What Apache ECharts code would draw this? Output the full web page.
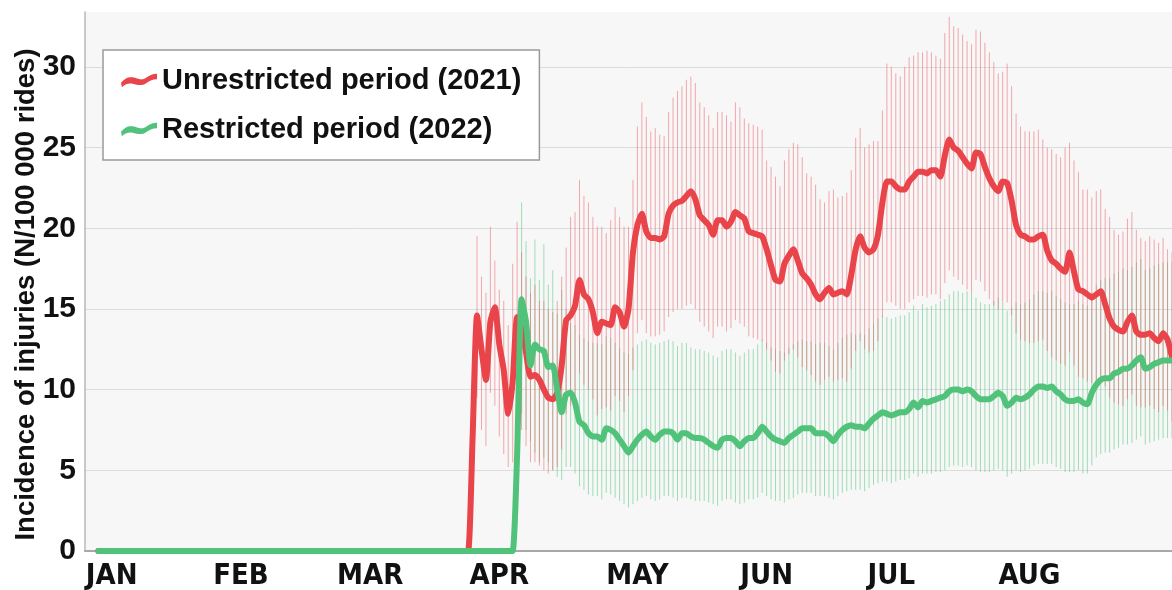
<!DOCTYPE html>
<html><head><meta charset="utf-8">
<script src="https://cdn.jsdelivr.net/npm/echarts@6/dist/echarts.min.js"></script>
<style>html,body{margin:0;padding:0;background:#fff}#chart{width:1172px;height:590px}</style>
</head><body><div id="chart"></div>
<script>
// ---- data (day index 0 = 1 January) ----
const dayCount = 245;
const firstDay = 3;
const monthLabels = ['JAN','FEB','MAR','APR','MAY','JUN','JUL','AUG'];
const monthLabelDays = [6, 35, 64, 93, 124, 153, 181, 212];
const yTicks = [0, 5, 10, 15, 20, 25, 30];

// Unrestricted period (2021)
const redStart = 86;
const redMean = [0,7,14.6,12.5,10.6,14.2,15.1,12.8,11.2,8.5,10.5,14.5,13.8,12.3,10.8,10.9,10.6,10,9.5,9.4,9.8,11.5,
14.3,14.6,15.2,16.8,15.9,15.6,14.8,13.5,14.2,14.1,14,15.1,14.8,13.9,15,18.5,20.2,20.9,19.8,19.4,19.4,19.3,19.5,20.9,
21.4,21.6,21.7,22,22.3,21.8,20.8,20.5,20.2,19.6,20.5,20.5,20.1,20.4,21,20.8,20.6,19.8,19.7,19.6,19.5,18.7,17.7,16.8,
16.7,17.8,18.3,18.7,18,17.2,16.9,16.5,15.9,15.6,16,16.3,15.9,16,16.1,15.9,17.1,18.7,19.5,18.8,18.5,18.7,19.6,21.6,
22.9,22.9,22.6,22.4,22.4,22.9,23.2,23.5,23.5,23.4,23.6,23.6,23.2,24.5,25.5,25,24.8,24.4,24,23.7,24.7,24.6,23.8,23.1,
22.6,22.3,22.9,22.8,21.7,20.2,19.6,19.5,19.3,19.3,19.5,19.6,18.6,18,17.8,17.5,17.3,18.5,17.3,16.2,16.1,15.9,15.7,15.9,
16.1,15.3,14.4,13.9,13.7,13.6,14.2,14.6,13.6,13.4,13.4,13.5,13.2,13,13.5,13.1,12];
const redCiStart = 88;
const redHigh = [19.5,17,16,20.1,18,16.2,15.5,14,17.8,20.4,
18.5,17,16,16.5,15.5,15.5,15,14.8,15.5,17,
18.8,20.7,21,23,22,21.6,20.7,20.1,20.1,19.7,
20.5,21.3,20.7,20.1,20.1,23,26.3,27.8,26.9,26,
26.2,25.8,25.7,27.2,28.1,28.5,28.8,29.2,29.4,29,
27.8,27.5,27,26.2,27.2,27.2,27,26.6,27.8,27.5,
26.8,26.5,26.4,26.3,26.1,24.2,23.8,23.2,22.6,24.2,
24.9,25.3,25.2,24.4,23.4,23.2,22.7,21.8,21.6,22.3,
22.4,21.9,22,22.2,23.6,25.6,26.2,25,25.2,25.4,
25.4,27.3,30.2,30,29.6,29.4,30,30.6,30.7,30.9,
30.9,31,30.9,30.7,30.5,32.1,33.1,32.5,32.4,32,
31.6,31.4,32.3,32.2,31.5,30.9,30.3,29.6,29.7,30.2,
28.8,27.1,26.3,26,26,26,26.1,25.5,25,24.9,
24.6,24.4,25,25.3,24.2,23.5,22.4,22.4,21.9,22.3,
22.4,21.2,20.7,19.9,19.6,19.8,20.6,21,19.9,19.4,
19.2,19.5,19.3,19.1,19.4,18.7,18.5];
const redLow = [9.5,7.5,6.5,9.8,9,7.1,6,5.2,5.5,8.1,
7.5,6.5,5.5,5.5,5.3,5,4.8,5,5.2,6.3,
8.5,9,9.6,11,10.3,10,9.4,8.4,8.8,8.9,
8.7,9.6,9.3,8.6,9.6,11.2,13.5,14.3,13.5,13.3,
13.3,13.4,13.6,14.5,14.8,15,15,15.2,15.3,15,
14.2,13.9,13.6,13.2,13.9,13.9,13.6,13.8,14.3,14.1,
13.9,13.3,13.2,13.1,13,12.5,11.8,11.1,11,11.8,
12.2,12.5,12,11.4,11.2,10.9,10.5,10.3,10.6,10.8,
10.5,10.6,10.7,10.5,11.3,12.4,13,12.5,12.3,12.4,
13,14.5,15.4,15.4,15.2,15,15,15.4,15.6,15.8,
15.8,15.7,15.9,15.9,15.6,16.6,17.4,17,16.8,16.5,
16.2,16,16.8,16.7,16.1,15.6,15.2,15,15.5,15.4,
14.6,13.5,13.1,13,12.9,12.9,13,13.1,12.4,12,
11.8,11.6,11.5,12.3,11.5,10.8,10.7,10.5,10.4,10.5,
10.7,10.2,9.5,9.2,9.1,9,9.4,9.7,9,8.9,
8.9,9,8.8,8.6,9,8.7,8];

// Restricted period (2022)
const greenStart = 97;
const greenMean = [6,15.6,14.2,11.5,12.8,12.5,12.4,11.4,11.5,10,
8.6,9.7,9.8,9.2,8,7.8,7.3,7.1,7.1,6.9,
7.6,7.5,7.3,6.9,6.5,6.1,6.5,6.9,7.2,7.4,
7.1,6.9,7.2,7.4,7.4,7.3,6.9,7.3,7.3,7.1,
7,7,6.9,6.7,6.5,6.4,6.9,7,7,6.8,
6.5,6.8,7,7,7.3,7.7,7.4,7.1,6.9,6.8,
6.7,7,7.2,7.4,7.6,7.6,7.6,7.3,7.3,7.3,
7.1,6.8,7.2,7.5,7.7,7.8,7.7,7.7,7.6,7.9,
8.2,8.4,8.6,8.5,8.4,8.5,8.6,8.6,8.8,9.2,
8.9,9.3,9.2,9.3,9.4,9.5,9.6,9.9,10,10,
9.9,10,9.9,9.6,9.4,9.4,9.4,9.6,9.8,9.6,
9,9.2,9.5,9.4,9.5,9.7,10,10.2,10.2,10.1,
10.2,9.9,9.7,9.4,9.3,9.3,9.4,9.2,9.1,9.8,
10.3,10.6,10.7,10.7,11,11.1,11.3,11.3,11.5,11.8,
12,11.3,11.4,11.6,11.7,11.8,11.8,11.8];
const greenCiStart = 98;
const greenHigh = [21.6,19.2,16.9,19.3,16.8,19,16.5,17.4,14.7,16.2,
15,14.1,14,13.4,13.2,13,12.9,12.9,12.8,13.3,
13.2,12.9,12.6,12.3,12.2,12.6,12.8,13,13.1,12.9,
12.8,12.9,13,13.1,13,12.7,12.9,12.9,12.6,12.5,
12.5,12.4,12.3,12.1,12,12.4,12.5,12.5,12.3,12.1,
12.3,12.5,12.5,12.8,13.1,12.9,12.6,12.5,12.4,12.3,
12.6,12.8,13,13.1,13,13,12.8,12.9,12.9,12.7,
12.5,12.9,13.2,13.4,13.5,13.4,13.5,13.4,13.8,14.1,
14.4,14.6,14.5,14.4,14.5,14.6,14.6,14.8,15.2,14.9,
15.3,15.1,15.2,15.3,15.5,15.6,15.9,16.1,16.1,16,
16.1,16,15.7,15.4,15.3,15.3,15.5,15.7,15.5,14.9,
15.1,15.4,15.3,15.4,15.6,15.9,16.1,16.1,16,16.1,
15.8,15.6,15.4,15.3,15.3,15.5,15.3,15.2,16,16.5,
16.8,16.9,16.9,17.2,17.3,17.5,17.4,17.6,17.9,18.1,
17.4,17.5,17.7,17.8,17.9,17.9,17.9];
const greenLow = [8.5,7.5,6.8,6.1,5.5,5.8,5.5,5,4.6,4.4,
5.2,5.2,4.8,4,3.8,3.5,3.4,3.4,3.2,3.6,
3.5,3.3,3.1,2.9,2.7,2.9,3.1,3.3,3.4,3.2,
3.1,3.2,3.4,3.4,3.3,3.1,3.3,3.3,3.2,3.1,
3.1,3.1,3,2.9,2.8,3.1,3.2,3.2,3,2.9,
3,3.2,3.2,3.3,3.6,3.4,3.2,3.1,3.1,3,
3.2,3.3,3.5,3.6,3.6,3.6,3.4,3.4,3.4,3.3,
3.2,3.4,3.6,3.7,3.8,3.8,3.8,3.7,3.9,4.1,
4.2,4.3,4.3,4.2,4.3,4.4,4.4,4.5,4.8,4.6,
4.8,4.8,4.8,4.9,4.9,5,5.2,5.3,5.3,5.2,
5.3,5.2,5,4.9,4.9,4.9,5,5.1,5,4.6,
4.8,5,4.9,5,5.1,5.3,5.4,5.4,5.4,5.4,
5.2,5.1,4.9,4.9,4.9,5,4.8,4.8,5.3,5.8,
6,6.1,6.1,6.3,6.4,6.6,6.6,6.7,6.9,7.1,
6.6,6.7,6.8,6.9,7,7,7];

// ---- build ----
function fullSeries(start, vals) {
  const out = [];
  for (let i = 0; i < dayCount; i++) {
    if (i < firstDay) out.push(null);
    else if (i < start) out.push(0);
    else out.push(vals[i - start]);
  }
  return out;
}
function ciData(start, lo, hi) { return lo.map((v, k) => [start + k, v, hi[k]]); }
const categories = Array.from({length: dayCount}, (_, i) => String(i));
const labelAt = {};
monthLabelDays.forEach((d, k) => { labelAt[d] = monthLabels[k]; });

const RED = '#e8444a', GREEN = '#50c27a';
const RED_CI = 'rgba(236,100,108,0.55)', GREEN_CI = 'rgba(85,198,125,0.55)';
function ciRenderer(color) {
  return function (params, api) {
    const p1 = api.coord([api.value(0), api.value(1)]);
    const p2 = api.coord([api.value(0), api.value(2)]);
    return { type: 'line', shape: { x1: p1[0], y1: p1[1], x2: p2[0], y2: p2[1] },
             style: { stroke: color, lineWidth: 1 } };
  };
}
const squiggle = 'path://M0,12 C4,7 8,5 13,6 C18,7 22,10 27,7 C31,4 35,2 40,2 L40,8 C35,8 31,10 27,13 C22,16 18,14 13,13 C8,12 4,14 1,17 Z';

const chart = echarts.init(document.getElementById('chart'), null, {renderer: 'canvas'});
chart.setOption({
  animation: false,
  backgroundColor: '#ffffff',
  grid: { left: 85, right: 0, top: 12, bottom: 39, show: true, backgroundColor: '#f7f7f7',
          borderWidth: 0, containLabel: false, outerBoundsMode: 'none' },
  legend: {
    left: 103, top: 50, orient: 'vertical',
    backgroundColor: '#ffffff', borderColor: '#9a9a9a', borderWidth: 1.5, borderRadius: 0,
    padding: [16, 18, 16, 18], itemGap: 20, itemWidth: 36, itemHeight: 16,
    itemStyle: { borderWidth: 0 },
    textStyle: { fontSize: 29, fontWeight: 'bold', color: '#111', fontFamily: 'Liberation Sans, Arial, sans-serif' },
    data: [{ name: 'Unrestricted period (2021)', icon: squiggle },
           { name: 'Restricted period (2022)', icon: squiggle }]
  },
  xAxis: {
    type: 'category', data: categories, boundaryGap: false,
    axisLine: { show: true, lineStyle: { color: '#a8a8a8', width: 2 } },
    axisTick: { show: false },
    splitLine: { show: false },
    axisLabel: {
      interval: 0, margin: 11, color: '#111', fontSize: 29, fontWeight: 'bold',
      fontFamily: 'DejaVu Sans Condensed, Liberation Sans Narrow, Open Sans, sans-serif',
      formatter: (v, idx) => labelAt[idx] || ''
    }
  },
  yAxis: {
    type: 'value', min: 0, max: 33.4, interval: 5,
    name: 'Incidence of injuries (N/100 000 rides)', nameLocation: 'middle', nameGap: 45,
    nameMoveOverlap: false,
    nameTextStyle: { fontSize: 27.5, fontWeight: 'bold', color: '#111', fontFamily: 'Liberation Sans, Arial, sans-serif', padding: [0, 26, 0, 0] },
    axisLine: { show: true, lineStyle: { color: '#b8b8b8', width: 1.5 } },
    axisTick: { show: false },
    splitLine: { show: true, lineStyle: { color: ['#dcdcdc','#dcdcdc','#dcdcdc','#dcdcdc','#dcdcdc','#dcdcdc','#dcdcdc','rgba(0,0,0,0)'], width: 1 } },
    axisLabel: { margin: 9, color: '#111', fontSize: 30, fontWeight: 'bold', fontFamily: 'Liberation Sans, Arial, sans-serif',
      formatter: v => (yTicks.indexOf(v) >= 0 ? String(v) : '') }
  },
  series: [
    { type: 'custom', name: 'ci2022', data: ciData(greenCiStart, greenLow, greenHigh),
      renderItem: ciRenderer(GREEN_CI), encode: { x: 0, y: [1, 2] }, z: 1, silent: true },
    { type: 'custom', name: 'ci2021', data: ciData(redCiStart, redLow, redHigh),
      renderItem: ciRenderer(RED_CI), encode: { x: 0, y: [1, 2] }, z: 2, silent: true },
    { type: 'line', name: 'Unrestricted period (2021)', data: fullSeries(redStart, redMean),
      showSymbol: false, smooth: 0.2, color: RED, itemStyle: { color: RED },
      lineStyle: { width: 6, color: RED, cap: 'round', join: 'round' }, z: 3 },
    { type: 'line', name: 'Restricted period (2022)', data: fullSeries(greenStart, greenMean),
      showSymbol: false, smooth: 0.2, color: GREEN, itemStyle: { color: GREEN },
      lineStyle: { width: 6, color: GREEN, cap: 'round', join: 'round' }, z: 4 }
  ]
});
</script>
</body></html>
